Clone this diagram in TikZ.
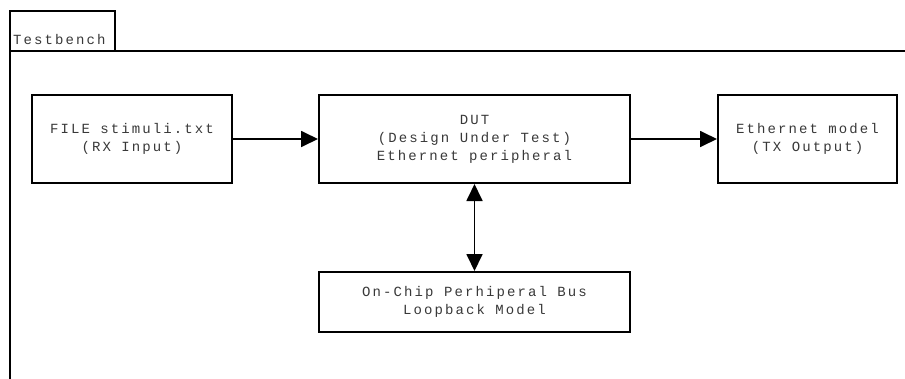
\documentclass[tikz,border=0pt]{standalone}
\usepackage{fontspec}
\newfontfamily\diagmono[LetterSpace=15]{Liberation Mono}
\usetikzlibrary{arrows.meta}
\begin{document}
\begin{tikzpicture}[x=1pt,y=-1pt,
  frameline/.style={line width=1.6pt, line cap=rect},
  labelfont/.style={text=black!78, font=\diagmono\fontsize{14}{18}\selectfont},
  blockbox/.style={draw, line width=2pt, inner sep=0pt, align=center, labelfont},
  flow/.style={line width=1.8pt, -{Triangle[length=17pt,width=16pt]}},
  flowboth/.style={line width=1.8pt, {Triangle[length=17pt,width=16pt]}-{Triangle[length=17pt,width=16pt]}}]
  \useasboundingbox (0,0) rectangle (905,378);

  % testbench frame with its tab
  \draw[frameline] (10,51) -- (10,11) -- (115,11) -- (115,51);
  \draw[frameline] (10,378) -- (10,51) -- (905,51);
  \node[anchor=base west, inner sep=0pt, labelfont] (tb) at (13,44) {Testbench};

  % blocks
  \node[blockbox, minimum width=200pt, minimum height=88pt] (rx) at (132,139)
    {FILE stimuli.txt\\(RX Input)};
  \node[blockbox, minimum width=311pt, minimum height=88pt] (dut) at (474.5,139)
    {DUT\\(Design Under Test)\\Ethernet peripheral};
  \node[blockbox, minimum width=179pt, minimum height=88pt] (tx) at (807.5,139)
    {Ethernet model\\(TX Output)};
  \node[blockbox, minimum width=311pt, minimum height=60pt] (bus) at (474.5,302)
    {On-Chip Perhiperal Bus\\Loopback Model};

  % connections
  \draw[flow] (rx.east) -- (dut.west);
  \draw[flow] (dut.east) -- (tx.west);
  \draw[flowboth] (dut.south) -- (bus.north);
\end{tikzpicture}
\end{document}
